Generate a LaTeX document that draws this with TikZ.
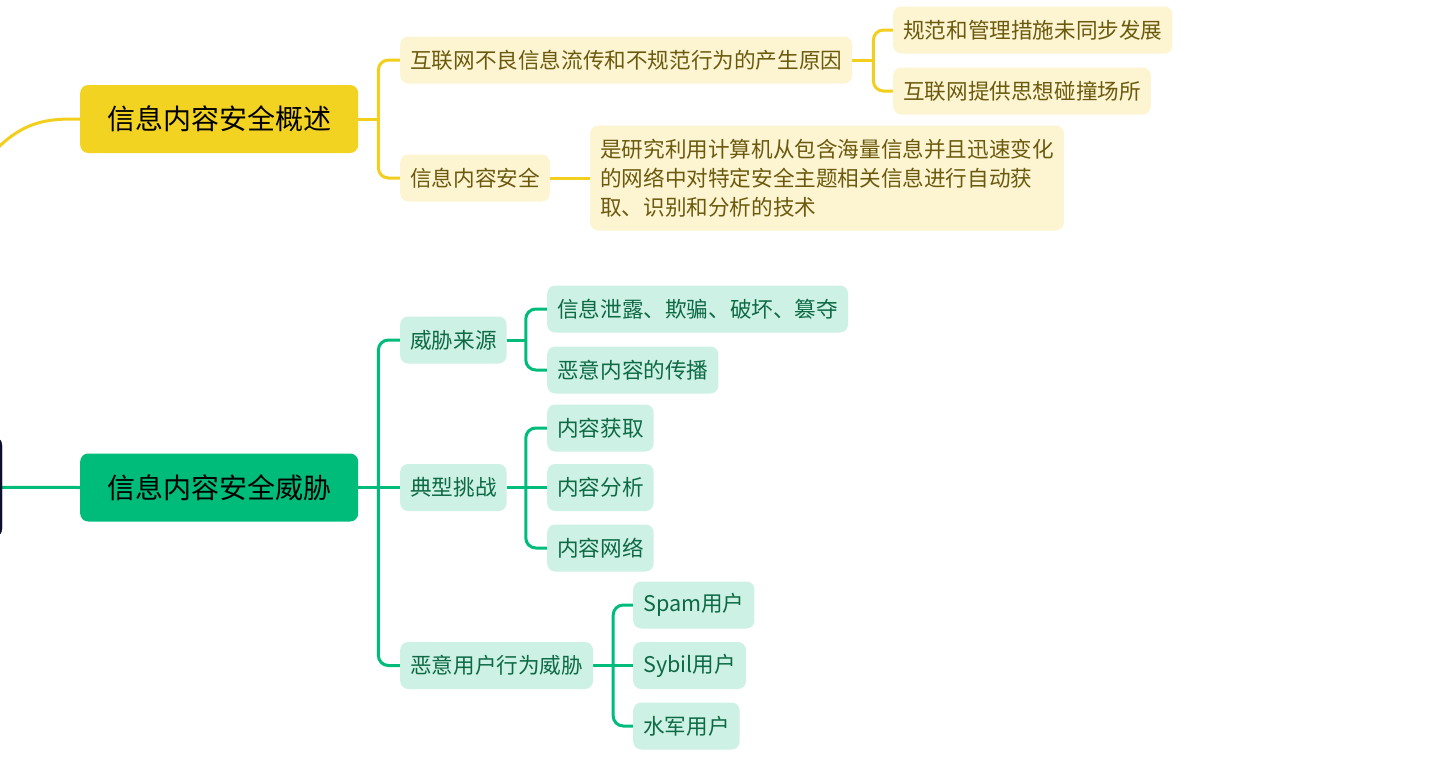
\documentclass[tikz,border=0pt]{standalone}
\usepackage{fontspec}
\newfontfamily\cjk{Noto Sans CJK SC}
\usetikzlibrary{backgrounds}
\definecolor{ymain}{HTML}{F2D322}
\definecolor{yline}{HTML}{F2CF1D}
\definecolor{ylight}{HTML}{FDF5D2}
\definecolor{ytext}{HTML}{6B5A0E}
\definecolor{gmain}{HTML}{00BC7B}
\definecolor{glight}{HTML}{CDF1E4}
\definecolor{gtext}{HTML}{0D6A45}
\definecolor{rootc}{HTML}{0E0E2E}
\begin{document}
\begin{tikzpicture}[x=1pt,y=-1pt,
  mainbox/.style={rounded corners=8pt, minimum width=278pt, minimum height=68pt, inner sep=0pt,
     font=\cjk\fontsize{28}{32}\selectfont, text=black, anchor=west},
  mainy/.style={mainbox, fill=ymain},
  maing/.style={mainbox, fill=gmain},
  subbox/.style={rounded corners=8pt, minimum height=47pt, inner xsep=10pt, inner ysep=0pt,
     font=\cjk\fontsize{21.6}{29}\selectfont, anchor=west},
  ysub/.style={subbox, fill=ylight, text=ytext},
  gsub/.style={subbox, fill=glight, text=gtext},
  yl/.style={draw=yline, line width=3pt, rounded corners=10pt},
  gl/.style={draw=gmain, line width=3pt, rounded corners=10pt},
  rootbox/.style={rounded corners=8pt, fill=rootc, minimum width=304pt, minimum height=100pt}
]
\useasboundingbox (0,0) rectangle (1436,782);
\clip (0,0) rectangle (1436,782);

\node[rootbox] (root) at (-150,487) {};
\node[mainy] (m1) at (80,119) {信息内容安全概述};
\node[maing] (m2) at (80,487.5) {信息内容安全威胁};

\node[ysub] (y1) at (400,60) {互联网不良信息流传和不规范行为的产生原因};
\node[ysub] (y2) at (400,178) {信息内容安全};
\node[ysub] (y11) at (893,30) {规范和管理措施未同步发展};
\node[ysub] (y12) at (893,91) {互联网提供思想碰撞场所};
\node[ysub, align=left, minimum height=105pt] (y21) at (590,178) {是研究利用计算机从包含海量信息并且迅速变化\\的网络中对特定安全主题相关信息进行自动获\\取、识别和分析的技术};

\node[gsub] (g1) at (400,340) {威胁来源};
\node[gsub] (g2) at (400,487.5) {典型挑战};
\node[gsub] (g3) at (400,665.5) {恶意用户行为威胁};
\node[gsub] (g11) at (547,309) {信息泄露、欺骗、破坏、篡夺};
\node[gsub] (g12) at (547,370) {恶意内容的传播};
\node[gsub] (g21) at (547,428) {内容获取};
\node[gsub] (g22) at (547,487.5) {内容分析};
\node[gsub] (g23) at (547,548) {内容网络};
\node[gsub] (g31) at (633,605) {Spam用户};
\node[gsub] (g32) at (633,665.5) {Sybil用户};
\node[gsub] (g33) at (633,726) {水军用户};

\begin{pgfonlayer}{background}
\fill[white] (0,0) rectangle (1436,782);
\draw[yl] (root.center) .. controls (-40,115) and (20,119) .. (m1.west);
\draw[gl] (root.center) -- (m2.west);
\draw[yl] (m1.east) -- ++(20,0) coordinate (bm1);
\draw[yl] (bm1) |- (y1.west);
\draw[yl] (bm1) |- (y2.west);
\draw[yl] (y1.east) -- ++(21,0) coordinate (by1);
\draw[yl] (by1) |- (y11.west);
\draw[yl] (by1) |- (y12.west);
\draw[yl] (y2.east) -- (y21.west);
\draw[gl] (m2.east) -- ++(20,0) coordinate (bm2);
\draw[gl] (bm2) |- (g1.west);
\draw[gl] (bm2) -- (g2.west);
\draw[gl] (bm2) |- (g3.west);
\draw[gl] (g1.east) -- ++(19,0) coordinate (bg1);
\draw[gl] (bg1) |- (g11.west);
\draw[gl] (bg1) |- (g12.west);
\draw[gl] (g2.east) -- ++(19,0) coordinate (bg2);
\draw[gl] (bg2) |- (g21.west);
\draw[gl] (bg2) -- (g22.west);
\draw[gl] (bg2) |- (g23.west);
\draw[gl] (g3.east) -- ++(20,0) coordinate (bg3);
\draw[gl] (bg3) |- (g31.west);
\draw[gl] (bg3) -- (g32.west);
\draw[gl] (bg3) |- (g33.west);
\end{pgfonlayer}
\node[rootbox] at (root.center) {};
\end{tikzpicture}
\end{document}
